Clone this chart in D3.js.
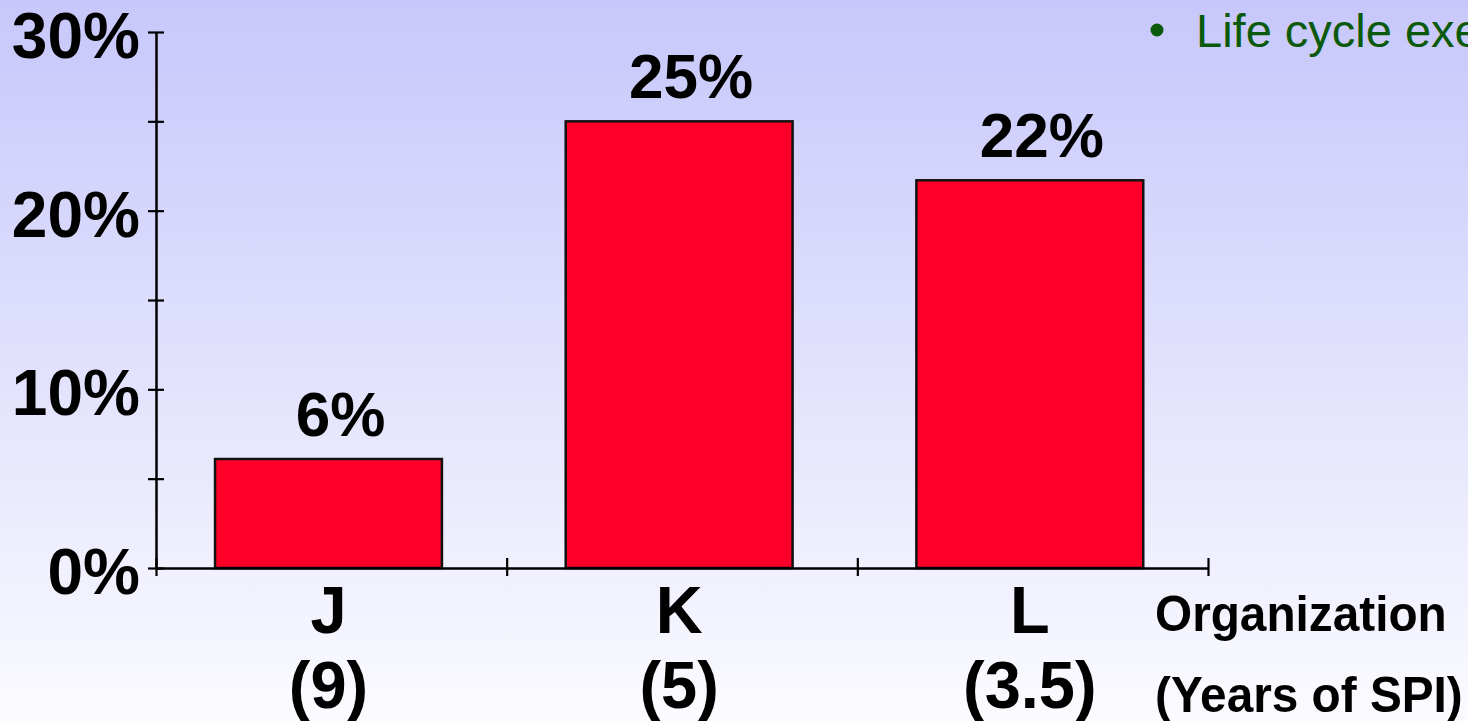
<!DOCTYPE html>
<html>
<head>
<meta charset="utf-8">
<script src="https://cdn.jsdelivr.net/npm/d3@7"></script>
<style>
  html, body { margin: 0; padding: 0; background: #fafaff; }
  svg { display: block; }
  text { font-family: "Liberation Sans", Arial, sans-serif; }
</style>
</head>
<body>
<svg id="chart" width="1468" height="721"></svg>
<script>
// Share of effort per organization, with years of SPI under each name
const categories = ["J", "K", "L"];
const yearsOfSPI = ["(9)", "(5)", "(3.5)"];
const shares = [0.061, 0.25, 0.217];
const yTickValues = [0, 0.05, 0.10, 0.15, 0.20, 0.25, 0.30];
const yLabelValues = [0, 0.10, 0.20, 0.30];
const axisTitleLines = ["Organization", "(Years of SPI)"];
const bulletText = "Life cycle exe";

const W = 1468, H = 721;
const svg = d3.select("#chart");

// soft lavender-to-white backdrop
const defs = svg.append("defs");
const grad = defs.append("linearGradient")
  .attr("id", "bg").attr("x1", 0).attr("y1", 0).attr("x2", 0).attr("y2", 1);
grad.append("stop").attr("offset", "0%").attr("stop-color", "#c7c7fb");
grad.append("stop").attr("offset", "100%").attr("stop-color", "#fbfbff");
svg.append("rect").attr("width", W).attr("height", H).attr("fill", "url(#bg)");

const plot = { left: 156, right: 1208, top: 32, bottom: 568 };

const y = d3.scaleLinear().domain([0, 0.30]).range([plot.bottom, plot.top]);
const x = d3.scaleBand().domain(categories)
  .range([plot.left, plot.right])
  .paddingInner(0.353).paddingOuter(0.1765).align(0.477);
// category boundaries for the bottom tick marks
const xEdges = d3.scaleLinear().domain([0, categories.length]).range([plot.left, plot.right]);

const pct = d3.format(".0%");
const sxBig = 0.985;   // large bold numbers
const sxTitle = 0.955; // axis title lines

function label(g, px, py, txt, size, anchor, weight, fill, scaleX) {
  return g.append("text")
    .attr("transform", `translate(${px},${py}) scale(${scaleX},1)`)
    .attr("text-anchor", anchor)
    .attr("font-size", size)
    .attr("font-weight", weight)
    .attr("fill", fill)
    .text(txt);
}

// bars
svg.append("g").selectAll("rect")
  .data(shares)
  .join("rect")
  .attr("x", (d, i) => x(categories[i]))
  .attr("y", d => y(d))
  .attr("width", x.bandwidth())
  .attr("height", d => y(0) - y(d))
  .attr("fill", "#ff0029")
  .attr("stroke", "#121212")
  .attr("stroke-width", 2.5);

// y axis
const yAxis = svg.append("g")
  .attr("transform", `translate(${plot.left},0)`)
  .call(d3.axisLeft(y).tickValues(yTickValues).tickFormat("").tickSizeInner(8).tickSizeOuter(0));
yAxis.select(".domain").attr("stroke", "#000").attr("stroke-width", 2.5);
yAxis.selectAll(".tick line").attr("x1", 8).attr("x2", -8).attr("stroke", "#000").attr("stroke-width", 2.2);

// x axis with ticks on category boundaries
const xAxis = svg.append("g")
  .attr("transform", `translate(0,${plot.bottom})`)
  .call(d3.axisBottom(xEdges).tickValues(d3.range(categories.length + 1)).tickFormat("").tickSizeInner(8).tickSizeOuter(0));
xAxis.select(".domain").attr("stroke", "#000").attr("stroke-width", 2.5);
xAxis.selectAll(".tick line").attr("y1", -10).attr("y2", 8).attr("stroke", "#000").attr("stroke-width", 2.2);

// y tick labels
const yl = svg.append("g");
yLabelValues.forEach(v => label(yl, 140, y(v) + 26, pct(v), 65, "end", "bold", "#000", sxBig));

// value labels above bars
const vl = svg.append("g");
shares.forEach((v, i) => label(vl, x(categories[i]) + x.bandwidth() / 2 + 12, y(v) - 23, pct(v), 63, "middle", "bold", "#000", sxBig));

// category names and years of SPI
const cl = svg.append("g");
categories.forEach((c, i) => {
  const cx = x(c) + x.bandwidth() / 2;
  label(cl, cx, 633, c, 66, "middle", "bold", "#000", sxBig);
  label(cl, cx, 708, yearsOfSPI[i], 66, "middle", "bold", "#000", sxBig);
});

// axis title at the right
label(svg, 1155, 631, axisTitleLines[0], 50, "start", "bold", "#000", sxTitle);
label(svg, 1155, 712, axisTitleLines[1], 50, "start", "bold", "#000", sxTitle);

// bullet line in the upper right, running off the edge
svg.append("circle").attr("cx", 1157).attr("cy", 30).attr("r", 6.5).attr("fill", "#0b5a0b");
label(svg, 1196, 47, bulletText, 47, "start", "normal", "#0b5a0b", 1);
</script>
</body>
</html>
